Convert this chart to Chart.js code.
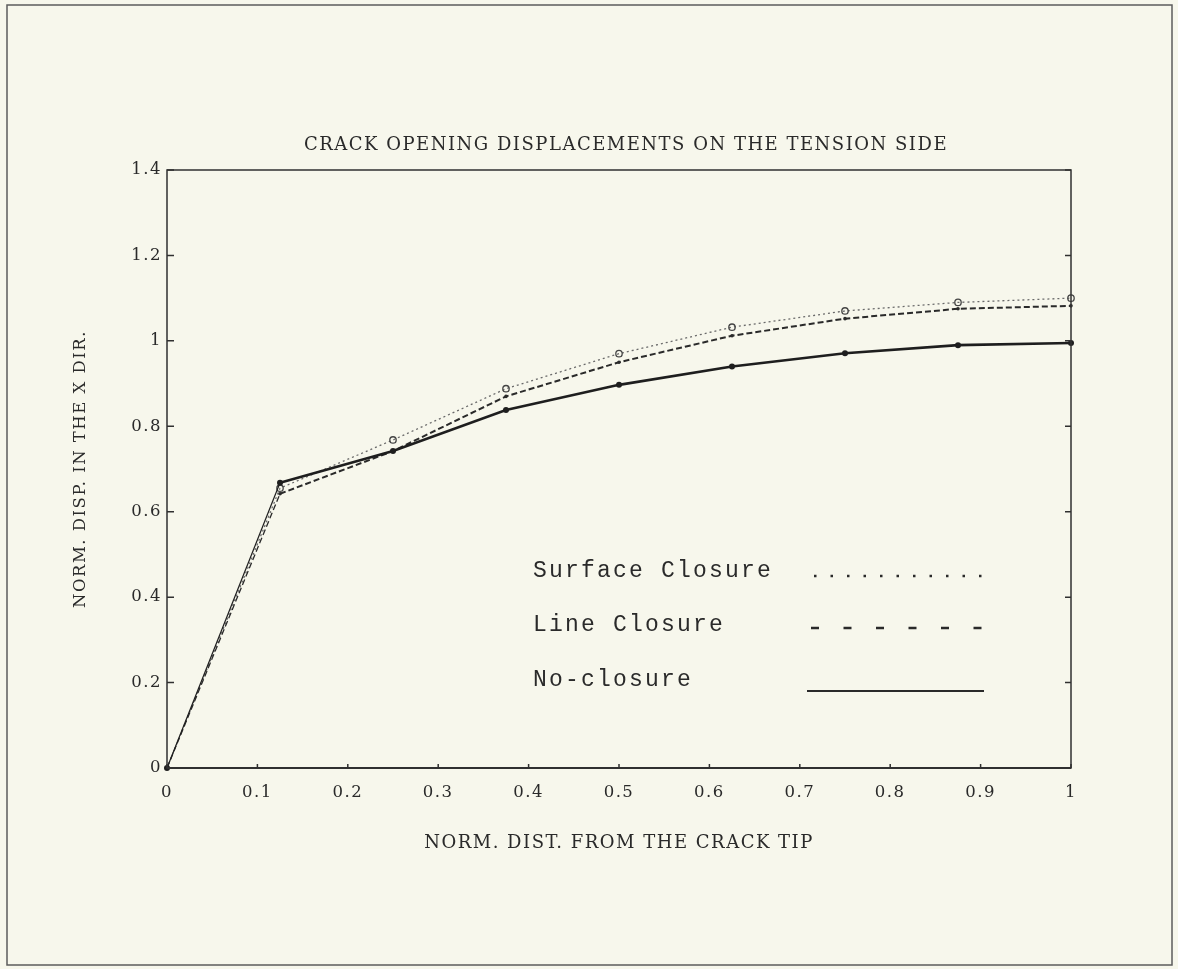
<!DOCTYPE html>
<html>
<head>
<meta charset="utf-8">
<script src="https://cdn.jsdelivr.net/npm/chart.js@4.4.0/dist/chart.umd.min.js"></script>
<style>
  html, body { margin: 0; padding: 0; background: #f7f7ec; }
  #wrap { width: 1178px; height: 969px; position: relative; }
</style>
</head>
<body>
<div id="wrap"><canvas id="myChart"></canvas></div>
<script>
// normalized distance from the crack tip
const xValues = [0, 0.125, 0.25, 0.375, 0.5, 0.625, 0.75, 0.875, 1];

// normalized displacement in the x direction
const noClosure = [0, 0.668, 0.742, 0.838, 0.897, 0.94, 0.971, 0.99, 0.995];
const lineClosure = [0, 0.642, 0.742, 0.87, 0.95, 1.012, 1.052, 1.075, 1.082];
const surfaceClosure = [0, 0.655, 0.768, 0.888, 0.97, 1.032, 1.07, 1.09, 1.1];

const xTicks = [0, 0.1, 0.2, 0.3, 0.4, 0.5, 0.6, 0.7, 0.8, 0.9, 1];
const yTicks = [0, 0.2, 0.4, 0.6, 0.8, 1, 1.2, 1.4];

const chartTitle = "CRACK OPENING DISPLACEMENTS ON THE TENSION SIDE";
const legendItems = ["Surface Closure", "Line Closure", "No-closure"];

const ink = "#2a2a2a";
const toPoints = (ys) => xValues.map((x, i) => ({ x, y: ys[i] }));

const setSpacing = (chart) => { chart.ctx.letterSpacing = "1.5px"; };

const paper = {
  id: "paper",
  beforeUpdate: setSpacing,
  beforeLayout: setSpacing,
  beforeDraw(chart) {
    const ctx = chart.ctx;
    setSpacing(chart);
    ctx.save();
    ctx.fillStyle = "#f7f7ec";
    ctx.fillRect(0, 0, chart.width, chart.height);
    ctx.strokeStyle = "#5c5c5c";
    ctx.lineWidth = 1.5;
    ctx.strokeRect(7, 5, 1165, 960);
    ctx.restore();
  },
  afterDraw(chart) {
    const ctx = chart.ctx;
    const { left, right, top, bottom } = chart.chartArea;
    const xs = chart.scales.x, ys = chart.scales.y;

    ctx.save();
    // plot box
    ctx.strokeStyle = "#303030";
    ctx.lineWidth = 1.5;
    ctx.strokeRect(left, top, right - left, bottom - top);
    ctx.lineWidth = 2.2;
    ctx.beginPath();
    ctx.moveTo(left, bottom);
    ctx.lineTo(right, bottom);
    ctx.stroke();

    // inward ticks
    ctx.lineWidth = 1.5;
    ctx.beginPath();
    yTicks.forEach((v) => {
      const p = ys.getPixelForValue(v);
      ctx.moveTo(left, p); ctx.lineTo(left + 7, p);
      ctx.moveTo(right, p); ctx.lineTo(right - 6, p);
    });
    xTicks.forEach((v) => {
      const p = xs.getPixelForValue(v);
      ctx.moveTo(p, bottom); ctx.lineTo(p, bottom - 4);
    });
    ctx.stroke();

    // title
    ctx.fillStyle = ink;
    ctx.font = '18px "DejaVu Serif"';
    ctx.textAlign = "center";
    ctx.textBaseline = "middle";
    ctx.fillText(chartTitle, 626, 145);

    // legend drawn inside the plot
    ctx.font = '23px "Liberation Mono"';
    ctx.letterSpacing = "2.2px";
    ctx.textAlign = "left";
    ctx.fillText(legendItems[0], 533, 571);
    ctx.fillText(legendItems[1], 533, 625);
    ctx.fillText(legendItems[2], 533, 680);

    ctx.strokeStyle = ink;
    ctx.lineCap = "butt";
    ctx.lineWidth = 2.5;
    ctx.setLineDash([2.5, 14]);
    ctx.beginPath(); ctx.moveTo(814, 576); ctx.lineTo(984, 576); ctx.stroke();
    ctx.setLineDash([8, 24.5]);
    ctx.beginPath(); ctx.moveTo(811, 628); ctx.lineTo(990, 628); ctx.stroke();
    ctx.setLineDash([]);
    ctx.lineWidth = 2;
    ctx.beginPath(); ctx.moveTo(807, 691); ctx.lineTo(984, 691); ctx.stroke();
    ctx.restore();
  }
};

const ctx = document.getElementById("myChart").getContext("2d");
const myChart = new Chart(ctx, {
  type: "line",
  data: {
    datasets: [
      {
        label: legendItems[2],
        data: toPoints(noClosure),
        borderColor: "#1e1e1e",
        borderWidth: 2.6,
        pointRadius: 3,
        pointBackgroundColor: "#1e1e1e",
        pointBorderWidth: 0,
        segment: { borderWidth: (c) => (c.p0DataIndex === 0 ? 1.2 : 2.6) },
        clip: false,
      },
      {
        label: legendItems[1],
        data: toPoints(lineClosure),
        borderColor: "#2a2a2a",
        borderWidth: 2,
        borderDash: [6, 3],
        pointRadius: 1.8,
        pointBackgroundColor: "#2a2a2a",
        pointBorderWidth: 0,
        segment: { borderWidth: (c) => (c.p0DataIndex === 0 ? 1.3 : 2) },
        clip: false,
      },
      {
        label: legendItems[0],
        data: toPoints(surfaceClosure),
        borderColor: "#6a6a6a",
        borderWidth: 1.3,
        borderDash: [2, 3],
        pointRadius: (c) => (c.dataIndex === 0 ? 0 : 3.2),
        pointBackgroundColor: "rgba(0,0,0,0)",
        pointBorderColor: "#444",
        pointBorderWidth: 1.3,
        clip: false,
      },
    ],
  },
  options: {
    responsive: true,
    maintainAspectRatio: false,
    animation: false,
    events: [],
    layout: { padding: { left: 0, right: 107, top: 170, bottom: 0 } },
    plugins: { legend: { display: false }, tooltip: { enabled: false } },
    scales: {
      x: {
        type: "linear",
        min: 0,
        max: 1,
        afterBuildTicks: (s) => { s.ticks = xTicks.map((v) => ({ value: v })); },
        afterFit: (s) => { s.height = 201; },
        ticks: {
          callback: (v) => String(v),
          color: ink,
          padding: 15,
          maxRotation: 0,
          font: { family: "DejaVu Serif", size: 16.5 },
        },
        grid: { display: false, drawTicks: false },
        border: { display: false },
        title: {
          display: true,
          text: "NORM. DIST. FROM THE CRACK TIP",
          color: ink,
          font: { family: "DejaVu Serif", size: 18 },
          padding: { top: 20, bottom: 115 },
        },
      },
      y: {
        type: "linear",
        min: 0,
        max: 1.4,
        afterBuildTicks: (s) => { s.ticks = yTicks.map((v) => ({ value: v })); },
        afterFit: (s) => { s.width = 167; },
        ticks: {
          callback: (v) => String(v),
          color: ink,
          padding: 5,
          font: { family: "DejaVu Serif", size: 16.5 },
        },
        grid: { display: false, drawTicks: false },
        border: { display: false },
        title: {
          display: true,
          text: "NORM. DISP. IN THE X DIR.",
          color: ink,
          font: { family: "DejaVu Serif", size: 16.5 },
          padding: { top: 71, bottom: 0 },
        },
      },
    },
  },
  plugins: [paper],
});
</script>
</body>
</html>
